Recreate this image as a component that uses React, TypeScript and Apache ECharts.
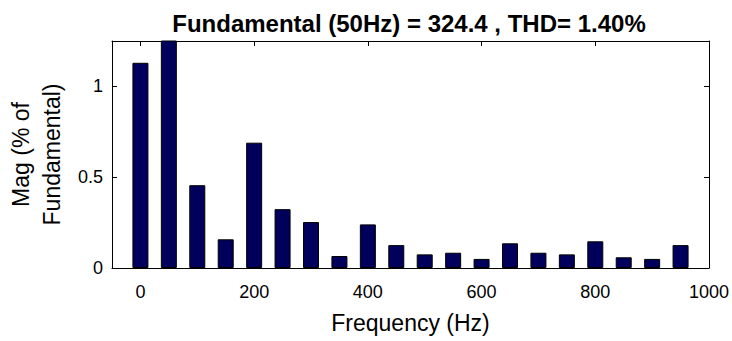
import React, { useEffect, useRef } from "react";
import * as echarts from "echarts";

const frequencies = [0, 50, 100, 150, 200, 250, 300, 350, 400, 450, 500, 550, 600, 650, 700, 750, 800, 850, 900, 950];
const magnitudes = [1.13, 100, 0.456, 0.158, 0.69, 0.324, 0.253, 0.066, 0.24, 0.126, 0.075, 0.084, 0.05, 0.136, 0.084, 0.075, 0.147, 0.059, 0.05, 0.126];
const xTicks = [0, 200, 400, 600, 800, 1000];
const yTicks = [0, 0.5, 1];
const title = "Fundamental (50Hz) = 324.4 , THD= 1.40%";

const FONT = "Liberation Sans, Arial, sans-serif";

export default function App() {
  const ref = useRef<HTMLDivElement>(null);
  useEffect(() => {
    const chart = echarts.init(ref.current!, null, { renderer: "svg" });
    const data = frequencies.map((f, i) => [f, magnitudes[i]]);
    const tickStyle = { show: true, inside: true, length: 5, lineStyle: { color: "#000", width: 1 } };
    const line = { show: true, onZero: false, lineStyle: { color: "#000", width: 1 } };
    const fmt = (v: number) => String(v);
    chart.setOption({
      animation: false,
      backgroundColor: "#fff",
      title: {
        text: title,
        left: 404,
        textAlign: "center",
        top: 6,
        textStyle: { fontFamily: FONT, fontWeight: "bold", fontSize: 24, color: "#000" },
      },
      grid: { left: 112, right: 23, top: 41, bottom: 73, show: false, containLabel: false, outerBoundsMode: "none" },
      xAxis: [
        {
          type: "value",
          min: -50,
          max: 1000,
          position: "bottom",
          name: "Frequency (Hz)",
          nameLocation: "middle",
          nameGap: 43,
          nameTextStyle: { fontFamily: FONT, fontSize: 23, color: "#000" },
          axisLine: line,
          axisTick: { ...tickStyle, customValues: xTicks },
          axisLabel: { fontFamily: FONT, fontSize: 18, color: "#000", margin: 15, customValues: xTicks, formatter: fmt },
          splitLine: { show: false },
        },
        {
          type: "value",
          min: -50,
          max: 1000,
          position: "top",
          axisLine: line,
          axisTick: { ...tickStyle, customValues: xTicks },
          axisLabel: { show: false },
          splitLine: { show: false },
        },
      ],
      yAxis: [
        {
          type: "value",
          min: 0,
          max: 1.25,
          position: "left",
          name: "Mag (% of\nFundamental)",
          nameLocation: "middle",
          nameRotate: 90,
          nameGap: 45,
          nameTextStyle: { fontFamily: FONT, fontSize: 23, color: "#000", lineHeight: 31 },
          axisLine: line,
          axisTick: { ...tickStyle, customValues: yTicks },
          axisLabel: { fontFamily: FONT, fontSize: 18, color: "#000", margin: 9, customValues: yTicks, formatter: fmt },
          splitLine: { show: false },
        },
        {
          type: "value",
          min: 0,
          max: 1.25,
          position: "right",
          axisLine: line,
          axisTick: { ...tickStyle, customValues: yTicks },
          axisLabel: { show: false },
          splitLine: { show: false },
        },
      ],
      series: [
        {
          type: "bar",
          data,
          barWidth: 16,
          clip: true,
          itemStyle: { color: "#00005c", borderColor: "#000", borderWidth: 1 },
        },
      ],
    });
    return () => chart.dispose();
  }, []);
  return <div ref={ref} style={{ position: "fixed", left: 0, top: 0, width: 732, height: 341 }} />;
}
